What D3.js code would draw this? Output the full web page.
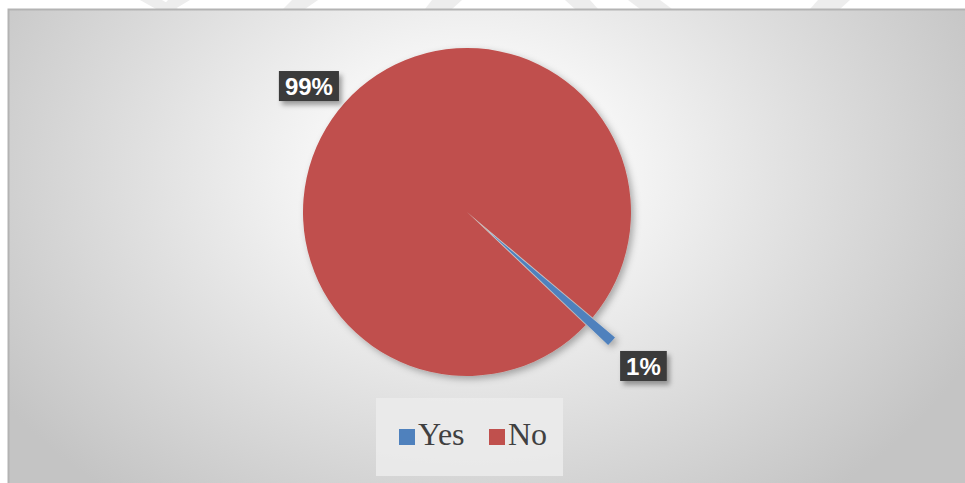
<!DOCTYPE html>
<html>
<head>
<meta charset="utf-8">
<script src="https://cdn.jsdelivr.net/npm/d3@7"></script>
<style>
  html, body { margin: 0; padding: 0; background: #fff; }
  svg { display: block; }
</style>
</head>
<body>
<svg id="chart" width="965" height="483"></svg>
<script>
// Survey answers and their shares (percent)
const categories = ["Yes", "No"];
const shares = [1, 99];
const sliceColors = ["#4F81BD", "#C0504D"];

const W = 965, H = 483;
const svg = d3.select("#chart");
const defs = svg.append("defs");

// Soft background: white in the middle, grey towards the edges
const bg = defs.append("radialGradient")
  .attr("id", "bgGrad")
  .attr("gradientUnits", "userSpaceOnUse")
  .attr("cx", 470).attr("cy", 170).attr("r", 560)
  .attr("gradientTransform", "translate(470,170) scale(1,0.75) translate(-470,-170)");
bg.append("stop").attr("offset", "0").attr("stop-color", "#ffffff");
bg.append("stop").attr("offset", "0.25").attr("stop-color", "#f7f7f7");
bg.append("stop").attr("offset", "0.6").attr("stop-color", "#dfdfdf");
bg.append("stop").attr("offset", "1").attr("stop-color", "#c4c4c4");

const shadow = defs.append("filter").attr("id", "shadow")
  .attr("x", "-20%").attr("y", "-20%").attr("width", "140%").attr("height", "140%");
shadow.append("feDropShadow").attr("dx", 3).attr("dy", 3)
  .attr("stdDeviation", 3.5).attr("flood-color", "#000").attr("flood-opacity", 0.3);

const labelShadow = defs.append("filter").attr("id", "labelShadow")
  .attr("x", "-30%").attr("y", "-30%").attr("width", "160%").attr("height", "160%");
labelShadow.append("feDropShadow").attr("dx", 3).attr("dy", 4)
  .attr("stdDeviation", 2.5).attr("flood-color", "#000").attr("flood-opacity", 0.35);

// Page strip above the chart frame
svg.append("rect").attr("width", W).attr("height", H).attr("fill", "#ffffff");
const stripShapes = [
  [[140, 0], [162, 0], [178, 9], [156, 9]],
  [[168, 0], [190, 0], [175, 9], [160, 9]],
  [[292, 0], [318, 0], [305, 9], [283, 9]],
  [[432, 0], [462, 0], [452, 9], [425, 9]],
  [[565, 0], [590, 0], [598, 9], [575, 9]],
  [[628, 0], [660, 0], [672, 9], [640, 9]],
  [[818, 0], [850, 0], [840, 9], [810, 9]]
];
svg.append("g").selectAll("polygon").data(stripShapes).join("polygon")
  .attr("points", d => d.map(p => p.join(",")).join(" "))
  .attr("fill", "#ededed");

// Chart frame
const frame = { x: 8, y: 9, w: W - 8, h: H - 9 };
svg.append("rect")
  .attr("x", frame.x).attr("y", frame.y)
  .attr("width", frame.w).attr("height", frame.h)
  .attr("fill", "url(#bgGrad)");
svg.append("path")
  .attr("d", `M${frame.x + 0.5},${H} V${frame.y + 0.5} H${W}`)
  .attr("fill", "none").attr("stroke", "#b3b3b3").attr("stroke-width", 2);

// Pie
const cx = 467, cy = 212, R = 164;
const explodeBy = { Yes: 30, No: 0 };
// small placement adjustments for the data labels (best-fit style)
const labelNudge = { Yes: [2, -2], No: [-6, 10] };
const deg = Math.PI / 180;

const pie = d3.pie()
  .sort(null)
  .value(d => d.value)
  .startAngle(130 * deg)
  .endAngle(490 * deg);

const data = categories.map((c, i) => ({ name: c, value: shares[i], color: sliceColors[i] }));
const arcs = pie(data);

const arc = d3.arc().innerRadius(0).outerRadius(R);
const labelArc = d3.arc().innerRadius(R + 40).outerRadius(R + 40);

function offset(d) {
  const a = (d.startAngle + d.endAngle) / 2;
  const e = explodeBy[d.data.name];
  return [Math.sin(a) * e, -Math.cos(a) * e];
}

const pieG = svg.append("g")
  .attr("transform", `translate(${cx},${cy})`)
  .attr("filter", "url(#shadow)");

pieG.selectAll("path").data(arcs).join("path")
  .attr("d", arc)
  .attr("transform", d => `translate(${offset(d)})`)
  .attr("fill", d => d.data.color);

// Data labels in dark boxes
const labelG = svg.append("g").attr("transform", `translate(${cx},${cy})`);
const lab = labelG.selectAll("g").data(arcs).join("g")
  .attr("transform", d => {
    const [x, y] = labelArc.centroid(d);
    const [ox, oy] = offset(d);
    const [nx, ny] = labelNudge[d.data.name];
    return `translate(${x + ox + nx},${y + oy + ny})`;
  });

lab.each(function (d) {
  const g = d3.select(this);
  const t = g.append("text")
    .attr("text-anchor", "middle")
    .attr("dy", "0.36em")
    .attr("font-family", "'Liberation Sans', Arial, sans-serif")
    .attr("font-weight", "bold")
    .attr("font-size", 24)
    .attr("fill", "#ffffff")
    .text(`${d.data.value}%`);
  const bb = t.node().getBBox();
  g.insert("rect", "text")
    .attr("x", bb.x - 6).attr("y", -15)
    .attr("width", bb.width + 12).attr("height", 30)
    .attr("fill", "#3a3a3a")
    .attr("filter", "url(#labelShadow)");
});

// Legend
const legend = svg.append("g").attr("transform", "translate(376,398)");
legend.append("rect")
  .attr("width", 187).attr("height", 78)
  .attr("fill", "#ebebeb").attr("opacity", 0.9);

const items = [
  { name: categories[0], color: sliceColors[0], x: 23 },
  { name: categories[1], color: sliceColors[1], x: 113 }
];
const li = legend.selectAll("g.item").data(items).join("g")
  .attr("class", "item")
  .attr("transform", d => `translate(${d.x},31)`);
li.append("rect").attr("width", 16).attr("height", 16).attr("fill", d => d.color);
li.append("text")
  .attr("x", 19).attr("y", 16)
  .attr("font-family", "'Liberation Serif', 'Times New Roman', serif")
  .attr("font-size", 32)
  .attr("fill", "#404040")
  .text(d => d.name);
</script>
</body>
</html>
